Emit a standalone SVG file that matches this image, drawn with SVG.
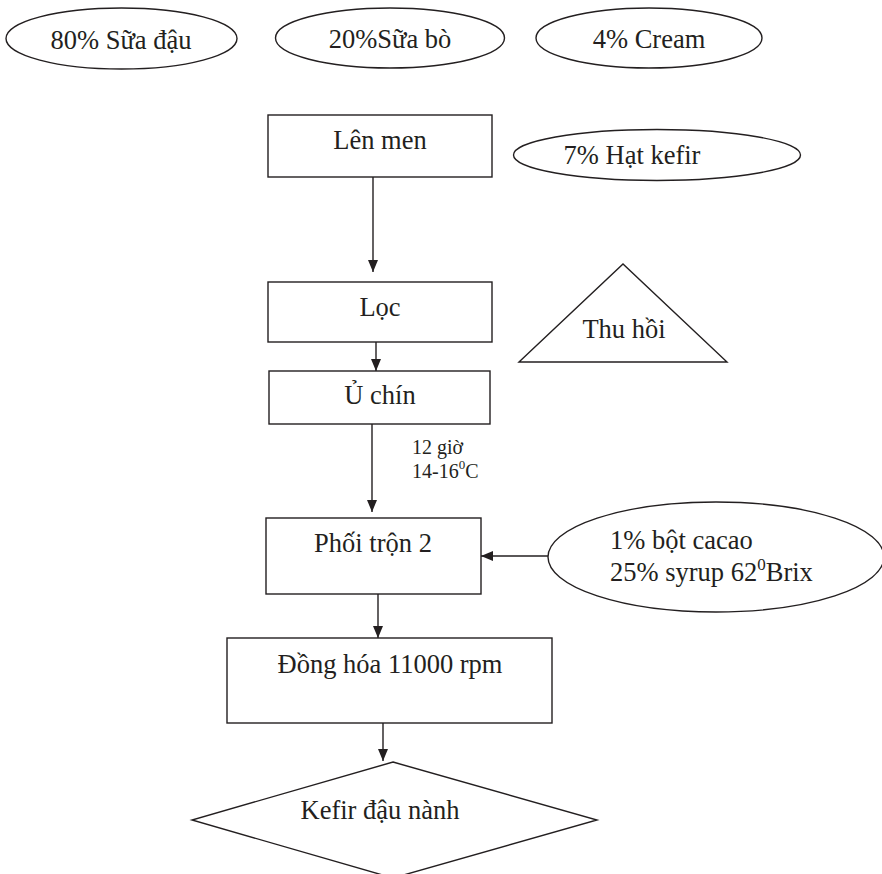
<svg xmlns="http://www.w3.org/2000/svg" width="882" height="874" viewBox="0 0 882 874">
<style>
  .shape { fill: #ffffff; stroke: #231f20; stroke-width: 1.4; }
  .t { font-family: "Liberation Serif", "Times New Roman", serif; font-size: 26.5px; fill: #231f20; }
  .tc { text-anchor: middle; }
  .small { font-family: "Liberation Serif", "Times New Roman", serif; font-size: 20px; fill: #231f20; }
  .conn { fill: none; stroke: #231f20; stroke-width: 1.4; }
</style>
<defs>
  <marker id="arrow" viewBox="0 0 12 10" refX="12" refY="5" markerWidth="12" markerHeight="10" markerUnits="userSpaceOnUse" orient="auto">
    <path d="M0,0 L12,5 L0,10 z" fill="#231f20"/>
  </marker>
</defs>
<rect width="882" height="874" fill="#ffffff"/>

<g id="n-suadau">
  <ellipse class="shape" cx="121.5" cy="38.5" rx="115.5" ry="30.5"/>
  <text class="t tc" x="121" y="49">80% Sữa đậu</text>
</g>
<g id="n-suabo">
  <ellipse class="shape" cx="390" cy="38" rx="114.5" ry="30"/>
  <text class="t tc" x="390" y="48">20%Sữa bò</text>
</g>
<g id="n-cream">
  <ellipse class="shape" cx="649" cy="38" rx="113" ry="30"/>
  <text class="t tc" x="649" y="48">4% Cream</text>
</g>

<g id="n-lenmen">
  <rect class="shape" x="268" y="115" width="224" height="62"/>
  <text class="t tc" x="380" y="149">Lên men</text>
</g>
<g id="n-kefir">
  <ellipse class="shape" cx="657" cy="155" rx="143.5" ry="25.5"/>
  <text class="t tc" x="632" y="164">7% Hạt kefir</text>
</g>

<g id="n-loc">
  <rect class="shape" x="268" y="282" width="224" height="60"/>
  <text class="t tc" x="380" y="316">Lọc</text>
</g>
<g id="n-thuhoi">
  <polygon class="shape" points="519,362 623,264 727,362"/>
  <text class="t tc" x="624" y="338">Thu hồi</text>
</g>

<g id="n-uchin">
  <rect class="shape" x="269" y="371" width="221" height="53"/>
  <text class="t tc" x="380" y="404">Ủ chín</text>
</g>

<g id="n-label-uchin">
  <text class="small" x="412" y="454">12 giờ</text>
  <text class="small" x="412" y="478">14-16<tspan font-size="13" dy="-9">0</tspan><tspan dy="9">C</tspan></text>
</g>

<g id="n-phoitron">
  <rect class="shape" x="266" y="518" width="215" height="76"/>
  <text class="t tc" x="373" y="552">Phối trộn 2</text>
</g>
<g id="n-cacao">
  <ellipse class="shape" cx="716" cy="557" rx="168" ry="55"/>
  <text class="t" x="610" y="549">1% bột cacao</text>
  <text class="t" x="610" y="581">25% syrup 62<tspan font-size="17" dy="-11">0</tspan><tspan dy="11">Brix</tspan></text>
</g>

<g id="n-donghoa">
  <rect class="shape" x="227" y="638" width="325" height="85"/>
  <text class="t tc" x="390" y="673">Đồng hóa 11000 rpm</text>
</g>

<g id="n-kefirdaunanh">
  <polygon class="shape" points="393,762 597,820 393,878 192,820"/>
  <text class="t tc" x="380" y="819">Kefir đậu nành</text>
</g>

<g id="connectors">
  <line class="conn" x1="373" y1="177" x2="373" y2="272" marker-end="url(#arrow)"/>
  <line class="conn" x1="376" y1="342" x2="376" y2="371" marker-end="url(#arrow)"/>
  <line class="conn" x1="372" y1="424" x2="372" y2="512" marker-end="url(#arrow)"/>
  <line class="conn" x1="548" y1="556" x2="481" y2="556" marker-end="url(#arrow)"/>
  <line class="conn" x1="378" y1="594" x2="378" y2="638" marker-end="url(#arrow)"/>
  <line class="conn" x1="383" y1="723" x2="383" y2="761" marker-end="url(#arrow)"/>
</g>
</svg>
